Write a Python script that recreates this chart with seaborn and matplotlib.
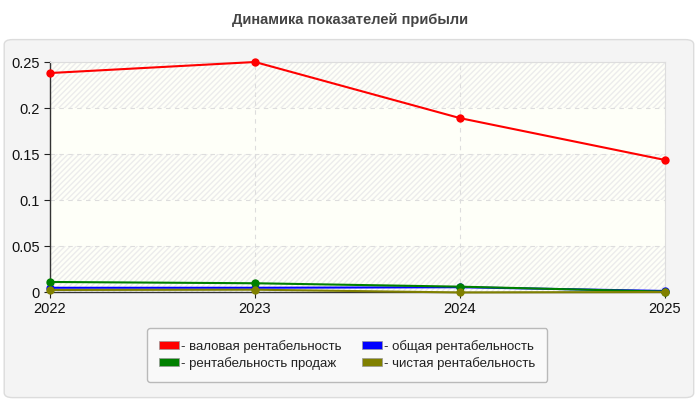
import numpy as np
import pandas as pd
import matplotlib
matplotlib.use("Agg")
import matplotlib.pyplot as plt
import seaborn as sns
from matplotlib.patches import FancyBboxPatch, Patch
from matplotlib.ticker import FuncFormatter

# data
years = [2022, 2023, 2024, 2025]
gross = [0.238, 0.250, 0.189, 0.1435]
total = [0.0046, 0.0046, 0.0052, 0.0011]
sales = [0.0109, 0.0095, 0.0058, 0.0004]
net = [0.0022, 0.0025, -0.0005, 0.0]

names = ["- валовая рентабельность", "- общая рентабельность",
         "- рентабельность продаж", "- чистая рентабельность"]
colors = ["#ff0000", "#0000ff", "#008000", "#808000"]

df = pd.DataFrame({
    "year": years * 4,
    "value": gross + total + sales + net,
    "series": [names[0]] * 4 + [names[1]] * 4 + [names[2]] * 4 + [names[3]] * 4,
})

sns.set_style("white")
plt.rcParams["font.family"] = ["Liberation Sans", "DejaVu Sans"]

fig = plt.figure(figsize=(7, 4), dpi=100)
fig.patch.set_facecolor("white")

# outer grey panel
panel = FancyBboxPatch((0.006, 0.006), 0.985, 0.895, boxstyle="round,pad=0,rounding_size=0.012",
                       transform=fig.transFigure, facecolor="#f4f4f4", edgecolor="#dcdcdc",
                       linewidth=1, zorder=-5)
fig.patches.append(panel)

ax = fig.add_axes([0.0714, 0.27, 0.8786, 0.575])
ax.set_zorder(2)
ax.set_facecolor("#fefff8")

# alternating hatched bands
for lo in [0.0, 0.1, 0.2]:
    ax.axhspan(lo, lo + 0.05, facecolor="none", hatch="//////", edgecolor="#ececec",
               linewidth=0, zorder=0)

sns.lineplot(data=df, x="year", y="value", hue="series", palette=dict(zip(names, colors)),
             marker="o", markersize=6, markeredgewidth=0, linewidth=1.5, ax=ax,
             legend=False, zorder=3)
for ln in ax.lines:
    ln.set_clip_on(False)

ax.set_xlim(2022, 2025)
ax.set_ylim(0, 0.25)
ax.set_xticks(years)
ax.set_yticks([0, 0.05, 0.1, 0.15, 0.2, 0.25])
ax.yaxis.set_major_formatter(FuncFormatter(lambda v, p: "%g" % round(v, 2)))
ax.set_xlabel("")
ax.set_ylabel("")
ax.grid(True, color="#dddddd", linestyle=(0, (4, 4)), linewidth=0.8)
ax.set_axisbelow(True)
for side in ["top", "right"]:
    ax.spines[side].set_color("#dddddd")
for side in ["left", "bottom"]:
    ax.spines[side].set_color("#333333")
    ax.spines[side].set_linewidth(1)
ax.tick_params(axis="both", labelsize=10.5, colors="#222222", length=4, width=0.8,
               direction="out", left=True, bottom=True)
for lbl in ax.get_xticklabels() + ax.get_yticklabels():
    lbl.set_color("#111111")

fig.text(0.5, 0.95, "Динамика показателей прибыли", ha="center", va="center",
         fontsize=10.5, fontweight="bold", color="#444444")

# column-wise fill: first column gross/sales, second total/net
order = [0, 2, 1, 3]
handles = [Patch(facecolor=colors[i], edgecolor="#999999", linewidth=0.5) for i in order]
labels = [names[i] for i in order]
leg = fig.legend(handles, labels, loc="center", bbox_to_anchor=(0.496, 0.113), ncol=2,
                 fontsize=9.5, frameon=True, handlelength=1.5, handleheight=0.6,
                 handletextpad=0.2, columnspacing=1.5, labelspacing=0.3,
                 borderpad=0.9, fancybox=True)
leg.get_frame().set_facecolor("#fbfbfb")
leg.get_frame().set_edgecolor("#aaaaaa")
for t in leg.get_texts():
    t.set_color("#222222")

fig.savefig("out.png", dpi=100)
